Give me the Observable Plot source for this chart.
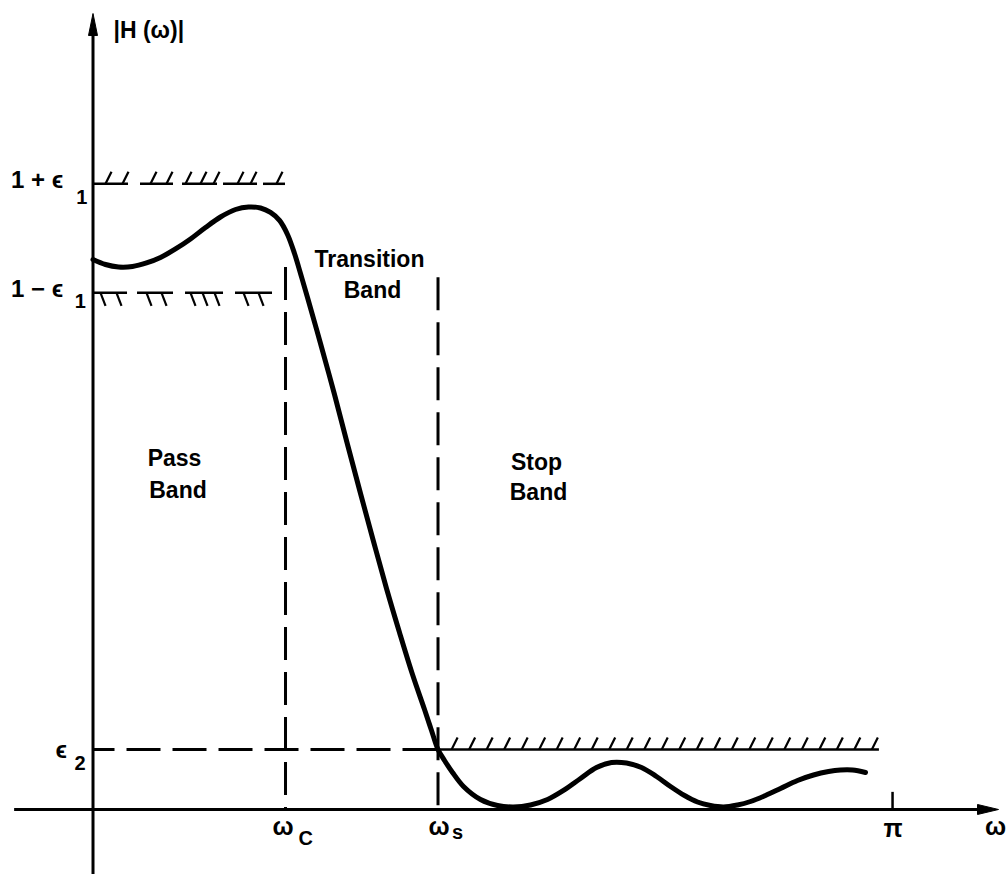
<!DOCTYPE html>
<html><head><meta charset="utf-8">
<script src="https://cdn.jsdelivr.net/npm/d3@7"></script>
<script src="https://cdn.jsdelivr.net/npm/@observablehq/plot@0.6"></script>
<style>html,body{margin:0;padding:0;background:#fff;}#chart{width:1008px;height:874px;}</style>
</head><body><div id="chart"></div>
<script>
// Frequency response |H(ω)| (ω in radians, 0..π)
const responseW = [0, 0.0491, 0.1002, 0.1552, 0.2102, 0.2652, 0.3242, 0.3831, 0.4420, 0.5010, 0.5599, 0.6110, 0.6582, 0.6974, 0.7328, 0.7642, 0.7917, 0.8153, 0.8428, 0.8939, 0.9489, 1.0000, 1.0511, 1.1022, 1.1532, 1.2043, 1.2554, 1.3026, 1.3301, 1.3556, 1.3811, 1.4126, 1.4558, 1.5226, 1.5894, 1.6523, 1.7191, 1.7859, 1.8487, 1.9155, 1.9784, 2.0373, 2.0963, 2.1552, 2.2141, 2.2692, 2.3242, 2.3752, 2.4263, 2.4774, 2.5324, 2.5835, 2.6424, 2.7014, 2.7682, 2.8310, 2.8900, 2.9371, 2.9843, 3.0354];
const responseH = [0.9629, 0.9541, 0.9497, 0.9506, 0.9568, 0.9664, 0.9813, 0.9988, 1.0189, 1.0373, 1.0504, 1.0548, 1.0530, 1.0453, 1.0313, 1.0067, 0.9734, 0.9384, 0.8964, 0.8158, 0.7265, 0.6390, 0.5532, 0.4692, 0.3869, 0.3099, 0.2363, 0.1751, 0.1383, 0.1050, 0.0858, 0.0648, 0.0403, 0.0175, 0.0070, 0.0044, 0.0079, 0.0175, 0.0333, 0.0543, 0.0735, 0.0823, 0.0814, 0.0735, 0.0578, 0.0403, 0.0245, 0.0131, 0.0070, 0.0044, 0.0079, 0.0140, 0.0245, 0.0368, 0.0508, 0.0604, 0.0665, 0.0692, 0.0692, 0.0648];

// Tolerance parameters
const eps1 = 0.0954;
const eps2 = 0.105;
const omegaC = 0.7564;
const omegaS = 1.3556;
const omegaEnd = 3.090;     // end of stop-band limit line

// Tolerance limit pieces (hatched)
const upperSegStart = [0, 0.1866, 0.3517, 0.5128, 0.6700];
const upperSegEnd   = [0.1395, 0.3163, 0.4892, 0.6464, 0.7564];
const upperHatchW   = [0.0491, 0.1159, 0.2259, 0.2888, 0.3635, 0.4224, 0.4735, 0.5678, 0.6189, 0.7210];
const lowerSegStart = [0, 0.1749, 0.3635, 0.5599];
const lowerSegEnd   = [0.1356, 0.3163, 0.5128, 0.7053];
const lowerHatchW   = [0.0295, 0.0923, 0.2102, 0.2692, 0.3831, 0.4303, 0.4774, 0.5914, 0.6503];
const stopHatchW    = d3.range(1.409, 3.08, 0.0688);

// Axes extents
const xAxisFrom = -0.308, xAxisTo = 3.50, xArrowTip = 3.558;
const yAxisFrom = -0.114, yAxisTo = 1.355, yArrowTip = 1.3935;
const omegaCTop = 0.949, omegaSTop = 0.931;
const piTickTop = 0.03;

// Text labels
const bandText = ["Transition", "Band", "Pass", "Band", "Stop", "Band"];
const bandW    = [1.0864, 1.0982, 0.3202, 0.3340, 1.7426, 1.7505];
const bandH    = [0.9489, 0.8946, 0.6022, 0.5445, 0.5935, 0.5410];

const yLabText = ["1 + ϵ", "1 − ϵ", "ϵ"];
const yLabW    = [-0.322, -0.322, -0.1473];
const yLabH    = [1.0889, 0.8964, 0.091];
const ySubText = ["1", "1", "2"];
const ySubW    = [-0.0660, -0.0720, -0.0727];
const ySubH    = [1.0609, 0.8771, 0.0683];

const xLabText = ["ω", "ω", "π", "ω"];
const xLabW    = [0.7053, 1.3183, 3.1061, 3.5050];
const xLabH    = [-0.0455, -0.0455, -0.0473, -0.0455];
const xSubText = ["C", "s"];
const xSubW    = [0.8075, 1.4105];
const xSubH    = [-0.063, -0.0508];
const yTitle = "|H (ω)|";
const yTitleW = 0.0806, yTitleH = 1.3515;

// build tables
const curve = responseW.map((w, i) => ({w, h: responseH[i]}));
const upperSegs = upperSegStart.map((a, i) => ({a, b: upperSegEnd[i], h: 1 + eps1}));
const lowerSegs = lowerSegStart.map((a, i) => ({a, b: lowerSegEnd[i], h: 1 - eps1}));
const zip = (t, w, h) => t.map((s, i) => ({s, w: w[i], h: h[i]}));

// custom symbols
const hatchUp = {draw(c) { c.moveTo(0, 0); c.lineTo(6, -12); }};
const hatchDown = {draw(c) { c.moveTo(0, 0); c.lineTo(5, 13); }};
const arrowRight = {draw(c) { c.moveTo(0, 0); c.lineTo(-21, -5); c.lineTo(-21, 5); c.closePath(); }};
const arrowUp = {draw(c) { c.moveTo(0, 0); c.lineTo(-4.5, 22); c.lineTo(4.5, 22); c.closePath(); }};

const FONT = "Liberation Sans, DejaVu Sans, sans-serif";
const black = "#000";

const plot = Plot.plot({
  width: 1008, height: 874,
  marginTop: 0, marginRight: 0, marginBottom: 0, marginLeft: 0,
  x: {domain: [-0.3635, 3.5972], axis: null},
  y: {domain: [-0.1138, 1.4163], axis: null},
  style: {background: "#fff", color: black, fontFamily: FONT},
  marks: [
    // axes
    Plot.ruleY([{v: 0}], {y: "v", x1: () => xAxisFrom, x2: () => xAxisTo, stroke: black, strokeWidth: 3}),
    Plot.ruleX([{v: 0}], {x: "v", y1: () => yAxisFrom, y2: () => yAxisTo, stroke: black, strokeWidth: 3}),
    Plot.dot([{w: xArrowTip, h: 0}], {x: "w", y: "h", symbol: arrowRight, fill: black, stroke: black, strokeWidth: 1}),
    Plot.dot([{w: 0, h: yArrowTip}], {x: "w", y: "h", symbol: arrowUp, fill: black, stroke: black, strokeWidth: 1}),
    Plot.ruleX([{w: Math.PI}], {x: "w", y1: () => 0, y2: () => piTickTop, stroke: black, strokeWidth: 2.5}),
    // dashed guides
    Plot.ruleX([{w: omegaC, t: omegaCTop}], {x: "w", y1: "t", y2: () => 0, stroke: black, strokeWidth: 3, strokeDasharray: "33,12"}),
    Plot.ruleX([{w: omegaS, t: omegaSTop}], {x: "w", y1: "t", y2: () => 0, stroke: black, strokeWidth: 3, strokeDasharray: "33,12"}),
    Plot.ruleY([{h: eps2}], {y: "h", x1: () => 0, x2: () => omegaS, stroke: black, strokeWidth: 3, strokeDasharray: "34,12", strokeDashoffset: 12}),
    // tolerance limits
    Plot.ruleY([{h: eps2}], {y: "h", x1: () => omegaS, x2: () => omegaEnd, stroke: black, strokeWidth: 2.5}),
    Plot.dot(stopHatchW, {x: d => d, y: () => eps2, symbol: hatchUp, fill: "none", stroke: black, strokeWidth: 2.2}),
    Plot.ruleY(upperSegs, {y: "h", x1: "a", x2: "b", stroke: black, strokeWidth: 2.5}),
    Plot.dot(upperHatchW, {x: d => d, y: () => 1 + eps1, symbol: hatchUp, fill: "none", stroke: black, strokeWidth: 2.2}),
    Plot.ruleY(lowerSegs, {y: "h", x1: "a", x2: "b", stroke: black, strokeWidth: 2.5}),
    Plot.dot(lowerHatchW, {x: d => d, y: () => 1 - eps1, symbol: hatchDown, fill: "none", stroke: black, strokeWidth: 2.2}),
    // response curve
    Plot.line(curve, {x: "w", y: "h", curve: "catmull-rom", stroke: black, strokeWidth: 5, strokeLinecap: "round", strokeLinejoin: "round"}),
    // text
    Plot.text(zip(bandText, bandW, bandH), {x: "w", y: "h", text: "s", textAnchor: "middle", lineAnchor: "bottom", fontSize: 23, fontWeight: "bold", fill: black, ariaLabel: "band-labels"}),
    Plot.text(zip(yLabText, yLabW, yLabH), {x: "w", y: "h", text: "s", textAnchor: "start", lineAnchor: "bottom", fontSize: 24, fontWeight: "bold", fill: black, ariaLabel: "y-labels"}),
    Plot.text(zip(ySubText, ySubW, ySubH), {x: "w", y: "h", text: "s", textAnchor: "start", lineAnchor: "bottom", fontSize: 20, fontWeight: "bold", fill: black}),
    Plot.text(zip(xLabText, xLabW, xLabH), {x: "w", y: "h", text: "s", textAnchor: "start", lineAnchor: "bottom", fontSize: 25, fontWeight: "bold", fill: black}),
    Plot.text(zip(xSubText, xSubW, xSubH), {x: "w", y: "h", text: "s", textAnchor: "start", lineAnchor: "bottom", fontSize: 20, fontWeight: "bold", fill: black}),
    Plot.text([{s: yTitle, w: yTitleW, h: yTitleH}], {x: "w", y: "h", text: "s", textAnchor: "start", lineAnchor: "bottom", fontSize: 23, fontWeight: "bold", fill: black, ariaLabel: "y-title"})
  ]
});

plot.querySelectorAll('g[aria-label="band-labels"] text').forEach(t => t.setAttribute("letter-spacing", "1.3"));
plot.querySelectorAll('g[aria-label="y-labels"] text').forEach(t => t.setAttribute("letter-spacing", "2.5"));
plot.querySelectorAll('g[aria-label="y-title"] text').forEach(t => t.setAttribute("letter-spacing", "2.5"));
document.getElementById("chart").appendChild(plot);
</script>
</body></html>
